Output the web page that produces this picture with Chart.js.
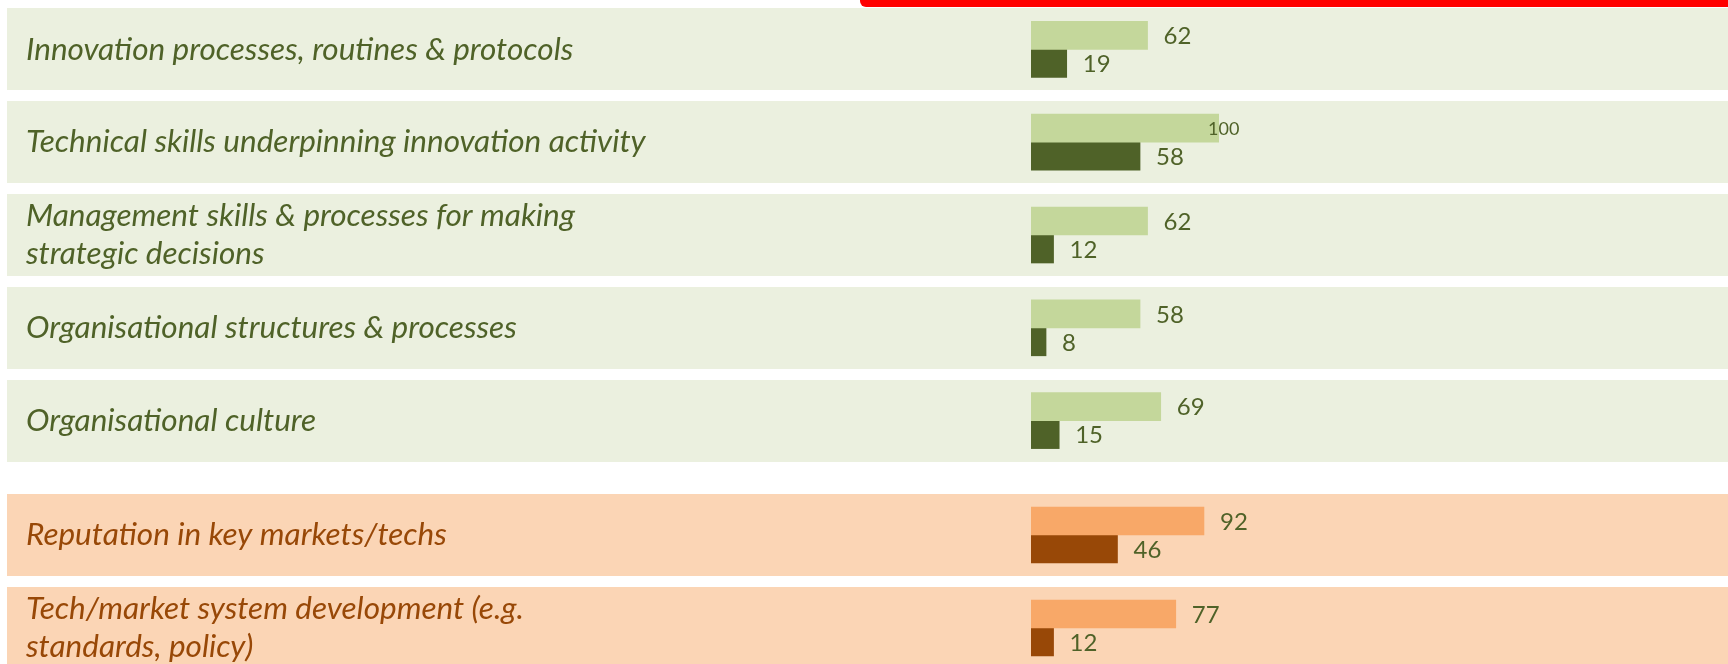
<!DOCTYPE html>
<html>
<head>
<meta charset="utf-8">
<script src="https://cdn.jsdelivr.net/npm/chart.js@4.4.1/dist/chart.umd.min.js"></script>
<style>
    html, body { margin: 0; padding: 0; background: #fff; overflow: hidden; width: 1728px; height: 664px; }
    #redBar { position: absolute; left: 860px; top: 0; width: 868px; height: 7px; background: #ff0000; border-bottom-left-radius: 6px; z-index: 2; }
    canvas { position: absolute; left: 0; }
    #capabilityChart { top: 0; }
    #positionChart { top: 480px; }
</style>
</head>
<body>
<div id="redBar"></div>
<canvas id="capabilityChart" width="1728" height="470"></canvas>
<canvas id="positionChart" width="1728" height="200"></canvas>
<script>
// Capability rows (green block)
const capabilityLabels = [
    'Innovation processes, routines & protocols',
    'Technical skills underpinning innovation activity',
    ['Management skills & processes for making', 'strategic decisions'],
    'Organisational structures & processes',
    'Organisational culture'
];
const capabilityLight = [62, 100, 62, 58, 69];
const capabilityDark = [19, 58, 12, 8, 15];

// Position rows (orange block)
const positionLabels = [
    'Reputation in key markets/techs',
    ['Tech/market system development (e.g.', 'standards, policy)']
];
const positionLight = [92, 77];
const positionDark = [46, 12];

// Shaded band behind every category
const bandPlugin = {
    id: 'bands',
    beforeDraw(chart, args, opts) {
        const ctx = chart.ctx;
        const y = chart.scales.y;
        ctx.save();
        ctx.fillStyle = opts.color;
        y.ticks.forEach((t, i) => {
            const cy = y.getPixelForValue(i);
            ctx.fillRect(7, Math.round(cy - 41), chart.width - 7, 82);
        });
        ctx.restore();
    }
};

// Number printed after each bar
const valueLabelPlugin = {
    id: 'valueLabels',
    afterDatasetsDraw(chart) {
        const ctx = chart.ctx;
        ctx.save();
        ctx.fillStyle = '#4F6228';
        ctx.textBaseline = 'middle';
        ctx.textAlign = 'left';
        chart.data.datasets.forEach((ds, di) => {
            chart.getDatasetMeta(di).data.forEach((bar, i) => {
                const v = ds.data[i];
                const full = v >= 100; // the 100 label sits on the bar end in a smaller size
                ctx.font = (full ? '18px' : '24px') + ' Lato';
                ctx.fillText(String(v), bar.x + (full ? -11 : 16), bar.y + 1);
            });
        });
        ctx.restore();
    }
};

function makeChart(id, labels, light, dark, c) {
    return new Chart(document.getElementById(id), {
        type: 'bar',
        data: {
            labels: labels,
            datasets: [
                { label: 'Series 1', data: light, backgroundColor: c.light, barThickness: 28 },
                { label: 'Series 2', data: dark, backgroundColor: c.dark, barThickness: 28 }
            ]
        },
        options: {
            indexAxis: 'y',
            responsive: false,
            animation: false,
            layout: { padding: { left: 26, right: 509, top: c.padTop, bottom: c.padBottom } },
            plugins: {
                legend: { display: false },
                tooltip: { enabled: false },
                bands: { color: c.band }
            },
            scales: {
                x: { display: false, min: 0, max: 100 },
                y: {
                    grid: { display: false },
                    border: { display: false },
                    ticks: {
                        crossAlign: 'far',
                        padding: 0,
                        color: c.text,
                        font: { family: 'Lato', style: 'italic', size: 31.5, lineHeight: 1.21 }
                    },
                    afterFit(scale) {
                        scale.width = 1005;
                        scale.paddingTop = 0;
                        scale.paddingBottom = 0;
                    }
                }
            }
        },
        plugins: [bandPlugin, valueLabelPlugin]
    });
}

makeChart('capabilityChart', capabilityLabels, capabilityLight, capabilityDark, {
    light: '#C4D79B', dark: '#4F6228', band: '#EBF0DF', text: '#4F6228', padTop: 3, padBottom: 3
});
makeChart('positionChart', positionLabels, positionLight, positionDark, {
    light: '#F8A868', dark: '#984807', band: '#FBD5B5', text: '#984807', padTop: 8.5, padBottom: 5.5
});
</script>
</body>
</html>
